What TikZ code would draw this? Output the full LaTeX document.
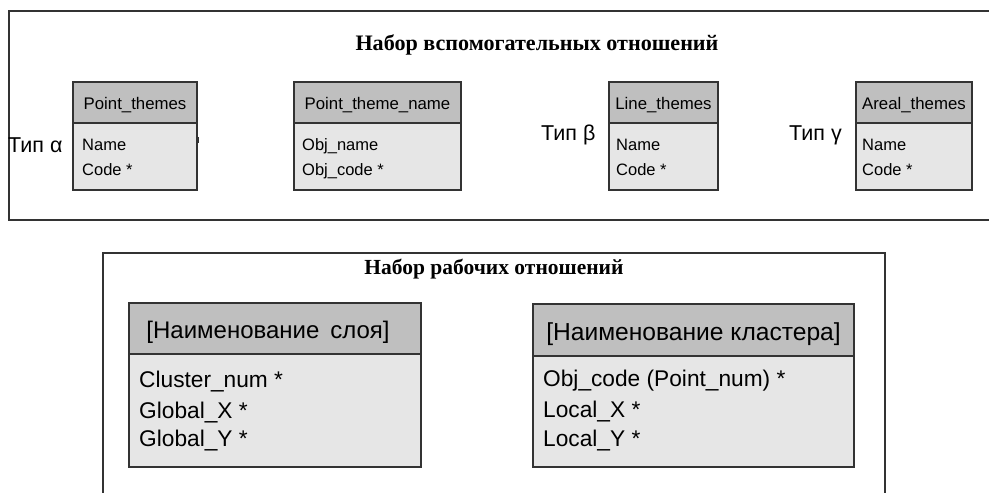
\documentclass[tikz,border=0pt]{standalone}
\usepackage{fontspec}
\setmainfont{Liberation Serif}
\newfontfamily\arialf{Liberation Sans}
\definecolor{hdrgray}{HTML}{BFBFBF}
\definecolor{bodygray}{HTML}{E6E6E6}
\definecolor{edgegray}{HTML}{333333}
\begin{document}
\begin{tikzpicture}[x=1pt,y=-1pt,
  frame/.style={draw=edgegray,line width=1.2pt},
  hdr/.style={draw=edgegray,line width=1.2pt,fill=hdrgray,anchor=north west,inner sep=0pt,outer sep=0pt},
  bdy/.style={draw=edgegray,line width=1.2pt,fill=bodygray,anchor=north west,inner sep=0pt,outer sep=0pt},
  stxt/.style={font=\arialf\fontsize{16.5}{18}\selectfont,anchor=base west,inner sep=0pt},
  shdr/.style={font=\arialf\fontsize{16.8}{18}\selectfont,anchor=base,inner sep=0pt},
  btxt/.style={font=\arialf\fontsize{22.7}{24}\selectfont,anchor=base west,inner sep=0pt},
  bhdr/.style={font=\arialf\fontsize{24}{26}\selectfont,anchor=base,inner sep=0pt},
  typ/.style={font=\arialf\fontsize{21.5}{23}\selectfont,anchor=base west,inner sep=0pt},
  ttl/.style={font=\bfseries\fontsize{22.1}{24}\selectfont,anchor=base,inner sep=0pt}]
\useasboundingbox (0,0) rectangle (989,493);
\fill[white] (0,0) rectangle (989,493);
% top frame (open on the right)
\coordinate (tfa) at (992,11);
\coordinate (tfb) at (9,11);
\coordinate (tfc) at (9,220);
\coordinate (tfd) at (992,220);
\draw[frame] (tfa) -- (tfb) -- (tfc) -- (tfd);
\node[ttl] (t1) at (537,50) {Набор вспомогательных отношений};
% Point_themes
\node[hdr,minimum width=124pt,minimum height=41pt] (pth) at (73,82) {};
\node[bdy,minimum width=124pt,minimum height=67pt] (ptb) at (73,123) {};
\node[shdr] (pthT) at (135,109) {Point\_themes};
\node[stxt] (ptb1) at (82,150) {Name};
\node[stxt] (ptb2) at (82,175) {Code *};
\coordinate (tk1) at (197.5,137);
\coordinate (tk2) at (197.5,143);
\draw[edgegray,line width=2.2pt] (tk1) -- (tk2);
% Point_theme_name
\node[hdr,minimum width=167pt,minimum height=41pt] (pnh) at (294,82) {};
\node[bdy,minimum width=167pt,minimum height=67pt] (pnb) at (294,123) {};
\node[shdr] (pnhT) at (377.5,109) {Point\_theme\_name};
\node[stxt] (pnb1) at (302,150) {Obj\_name};
\node[stxt] (pnb2) at (302,175) {Obj\_code *};
% Line_themes
\node[hdr,minimum width=109pt,minimum height=41pt] (lth) at (609,82) {};
\node[bdy,minimum width=109pt,minimum height=67pt] (ltb) at (609,123) {};
\node[shdr] (lthT) at (663.5,109) {Line\_themes};
\node[stxt] (ltb1) at (616,150) {Name};
\node[stxt] (ltb2) at (616,175) {Code *};
% Areal_themes
\node[hdr,minimum width=116pt,minimum height=41pt] (ath) at (856,82) {};
\node[bdy,minimum width=116pt,minimum height=67pt] (atb) at (856,123) {};
\node[shdr] (athT) at (914,109) {Areal\_themes};
\node[stxt] (atb1) at (862,150) {Name};
\node[stxt] (atb2) at (862,175) {Code *};
% type labels
\node[typ] (ta) at (8,152) {Тип α};
\node[typ] (tb) at (541,140) {Тип β};
\node[typ] (tg) at (789,140) {Тип γ};
% bottom frame (open at the bottom)
\coordinate (bfa) at (103,496);
\coordinate (bfb) at (103,253);
\coordinate (bfc) at (885,253);
\coordinate (bfd) at (885,496);
\draw[frame] (bfa) -- (bfb) -- (bfc) -- (bfd);
\node[ttl,font=\bfseries\fontsize{21.5}{23}\selectfont] (t2) at (494,274) {Набор рабочих отношений};
% layer table
\node[hdr,minimum width=292pt,minimum height=51pt] (lyh) at (129,303) {};
\node[bdy,minimum width=292pt,minimum height=113pt] (lyb) at (129,354) {};
\node[bhdr] (lyhT) at (268,338) {[Наименование\hspace{0.45em}слоя]};
\node[btxt] (lyb1) at (139,387) {Cluster\_num *};
\node[btxt] (lyb2) at (139,418) {Global\_X *};
\node[btxt] (lyb3) at (139,446) {Global\_Y *};
% cluster table
\node[hdr,minimum width=321pt,minimum height=52pt] (clh) at (533,304) {};
\node[bdy,minimum width=321pt,minimum height=111pt] (clb) at (533,356) {};
\node[bhdr,font=\arialf\fontsize{24.6}{26}\selectfont] (clhT) at (693.5,340) {[Наименование кластера]};
\node[btxt] (clb1) at (543,386) {Obj\_code (Point\_num) *};
\node[btxt] (clb2) at (543,417) {Local\_X *};
\node[btxt] (clb3) at (543,446) {Local\_Y *};
\end{tikzpicture}
\end{document}
